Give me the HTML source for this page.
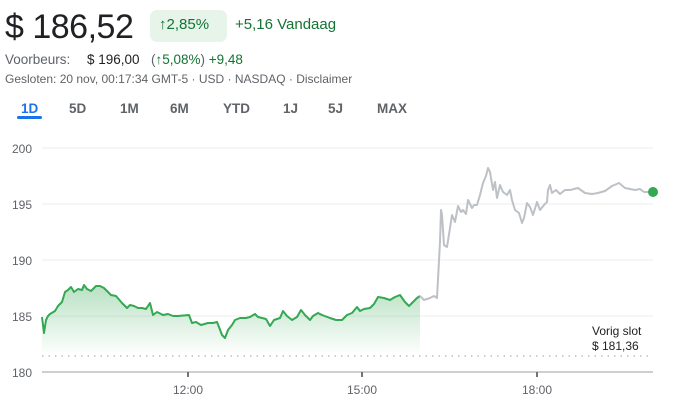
<!DOCTYPE html>
<html><head><meta charset="utf-8"><style>
body{margin:0;width:696px;height:405px;background:#fff;font-family:"Liberation Sans",Arial,sans-serif;position:relative;overflow:hidden}
.a{position:absolute;white-space:nowrap}
.t{font-size:13.5px;color:#5f6368;top:101px;font-weight:bold;-webkit-text-stroke:0}
</style></head><body>
<div class="a" style="left:5px;top:8px;font-size:34px;color:#202124;letter-spacing:-0.5px">$ 186,52</div>
<div class="a" style="left:150px;top:10px;width:77px;height:32px;background:#e6f4ea;border-radius:7px"></div>
<div class="a" style="left:159px;top:16px;font-size:15px;color:#137333">↑2,85%</div>
<div class="a" style="left:235px;top:16px;font-size:15px;color:#137333">+5,16 Vandaag</div>
<div class="a" style="left:5px;top:52px;font-size:13.5px;color:#5f6368">Voorbeurs:</div>
<div class="a" style="left:87px;top:52px;font-size:13.5px;color:#202124">$ 196,00</div>
<div class="a" style="left:151px;top:52px;font-size:13.5px;color:#137333"><span style="color:#5f6368">(</span>↑5,08%<span style="color:#5f6368">)</span> +9,48</div>
<div class="a" style="left:5px;top:72px;font-size:12px;color:#5f6368">Gesloten: 20 nov, 00:17:34 GMT-5 · USD · NASDAQ · Disclaimer</div>
<div class="a t" style="left:21px;color:#1a73e8">1D</div>
<div class="a" style="left:17px;top:116px;width:25px;height:3px;background:#1a73e8;border-radius:2px"></div>
<div class="a t" style="left:69px">5D</div>
<div class="a t" style="left:120px">1M</div>
<div class="a t" style="left:170px">6M</div>
<div class="a t" style="left:223px">YTD</div>
<div class="a t" style="left:283px">1J</div>
<div class="a t" style="left:328px">5J</div>
<div class="a t" style="left:377px">MAX</div>
<svg class="a" style="left:0;top:0" width="696" height="405">
<defs><linearGradient id="g" x1="0" y1="0" x2="0" y2="1"><stop offset="0" stop-color="#34a853" stop-opacity="0.35"/><stop offset="1" stop-color="#34a853" stop-opacity="0.02"/></linearGradient></defs>
<g stroke="#eeeeee" stroke-width="1"><line x1="42" y1="148" x2="653" y2="148"/><line x1="42" y1="204" x2="653" y2="204"/><line x1="42" y1="260" x2="653" y2="260"/><line x1="42" y1="316" x2="653" y2="316"/></g>
<line x1="42" y1="372" x2="653" y2="372" stroke="#9aa0a6" stroke-width="1"/>
<line x1="188" y1="372" x2="188" y2="377" stroke="#70757a" stroke-width="2"/>
<line x1="362" y1="372" x2="362" y2="377" stroke="#70757a" stroke-width="2"/>
<line x1="537" y1="372" x2="537" y2="377" stroke="#70757a" stroke-width="2"/>
<line x1="42" y1="356" x2="653" y2="356" stroke="#9aa0a6" stroke-width="1" stroke-dasharray="1.5,5"/>
<g font-size="12" fill="#5f6368"><text x="12" y="153">200</text><text x="12" y="209">195</text><text x="12" y="265">190</text><text x="12" y="321">185</text><text x="12" y="377">180</text>
<text x="188" y="394" text-anchor="middle">12:00</text><text x="362" y="394" text-anchor="middle">15:00</text><text x="537" y="394" text-anchor="middle">18:00</text></g>
<text x="592" y="335" font-size="12" fill="#202124">Vorig slot</text><text x="592" y="350" font-size="12" fill="#202124">$ 181,36</text>
<polygon fill="url(#g)" points="42,352 42,317 44,333 46,320 48,316 50,314 55,311 58,306 62,302 65,292 68,290 71,287 74,292 78,289 82,290 84,285 87,289 91,291 96,286 100,286 104,288 107,291 111,295 116,296 122,303 127,308 130,305 134,306 138,308 142,308 146,309 150,303 153,315 157,312 163,315 168,314 173,316 178,316 189,315 192,323 196,322 201,325 208,323 213,323 217,322 219,327 222,335 225,338 228,330 232,325 235,320 240,318 246,318 250,317 255,314 258,317 262,318 266,319 270,326 274,320 280,318 283,311 287,316 292,320 297,317 301,310 305,315 310,320 313,316 318,313 322,315 330,318 336,320 342,320 347,315 352,313 357,307 360,311 364,309 370,308 374,304 378,297 384,298 390,300 395,297 400,295 405,302 409,306 413,302 417,298 420,296 420,352"/>
<polyline fill="none" stroke="#34a853" stroke-width="2" stroke-linejoin="round" points="42,317 44,333 46,320 48,316 50,314 55,311 58,306 62,302 65,292 68,290 71,287 74,292 78,289 82,290 84,285 87,289 91,291 96,286 100,286 104,288 107,291 111,295 116,296 122,303 127,308 130,305 134,306 138,308 142,308 146,309 150,303 153,315 157,312 163,315 168,314 173,316 178,316 189,315 192,323 196,322 201,325 208,323 213,323 217,322 219,327 222,335 225,338 228,330 232,325 235,320 240,318 246,318 250,317 255,314 258,317 262,318 266,319 270,326 274,320 280,318 283,311 287,316 292,320 297,317 301,310 305,315 310,320 313,316 318,313 322,315 330,318 336,320 342,320 347,315 352,313 357,307 360,311 364,309 370,308 374,304 378,297 384,298 390,300 395,297 400,295 405,302 409,306 413,302 417,298 420,296"/>
<polyline fill="none" stroke="#bdc1c6" stroke-width="2" stroke-linejoin="round" points="420,296 424,300 430,298 434,296 437,298 440,242 441,210 442,215 444,245 447,247 450,228 452,215 455,222 458,206 461,212 463,210 466,214 468,200 472,208 474,205 477,205 480,195 483,183 486,176 488,168 490,172 493,190 495,182 497,198 500,185 503,192 507,195 510,190 512,200 515,210 519,213 522,223 524,218 527,203 530,207 533,215 537,202 540,210 544,205 547,202 548,190 550,185 552,193 556,190 560,194 565,190 570,190 578,188 585,193 592,194 598,193 605,191 612,186 619,183 625,188 630,189 635,190 640,189 644,192 653,192"/>
<circle cx="653" cy="192" r="5" fill="#34a853"/>
</svg>
</body></html>
